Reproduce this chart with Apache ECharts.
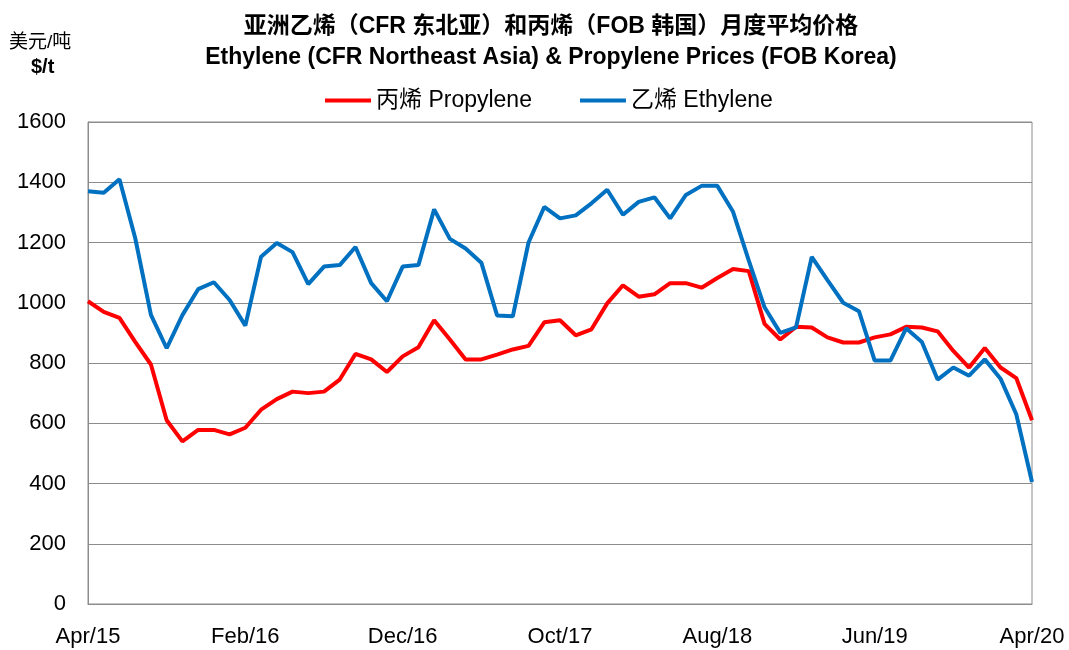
<!DOCTYPE html>
<html>
<head>
<meta charset="utf-8">
<script src="https://cdn.jsdelivr.net/npm/echarts@6/dist/echarts.min.js"></script>
<style>
  html, body { margin: 0; padding: 0; background: #fff; }
  #chart { width: 1069px; height: 650px; }
</style>
</head>
<body>
<div id="chart"></div>
<script>
// monthly, Apr/15 .. Apr/20
const monthNames = ["Jan", "Feb", "Mar", "Apr", "May", "Jun", "Jul", "Aug", "Sep", "Oct", "Nov", "Dec"];
const categories = [];
for (let k = 0; k < 61; k++) {
  const m = (3 + k) % 12;
  const y = 15 + Math.floor((3 + k) / 12);
  categories.push(monthNames[m] + "/" + y);
}

const propylene = [
  1005, 970, 950, 870, 795, 610, 540, 578, 578, 563,
  585, 645, 680, 705, 700, 705, 745, 830, 812, 770,
  822, 852, 942, 878, 812, 812, 828, 845, 857, 935,
  942, 892, 912, 998, 1058, 1020, 1028, 1065, 1065, 1050,
  1082, 1112, 1105, 930, 878, 920, 918, 885, 868, 868,
  885, 895, 920, 918, 905, 840, 785, 850, 785, 750,
  610
];
const ethylene = [
  1370, 1365, 1410, 1215, 960, 849, 959, 1045, 1068, 1009,
  924, 1153, 1198, 1168, 1062, 1120, 1125, 1185, 1065, 1005,
  1120, 1125, 1310, 1212, 1180, 1133, 958, 955, 1200, 1318,
  1280, 1290, 1330, 1375, 1292, 1335, 1350, 1280, 1358, 1388,
  1388, 1302, 1140, 985, 900, 918, 1152, 1075, 1000, 972,
  808, 808, 915, 870, 745, 785, 758, 812, 748, 630,
  405
];
const yTicks = [0, 200, 400, 600, 800, 1000, 1200, 1400, 1600];

const font = '"Liberation Sans", Arial, "Noto Sans CJK SC", sans-serif';

let chart = echarts.init(document.getElementById("chart"));
chart.setOption({
  animation: false,
  textStyle: { fontFamily: font },
  title: {
    text: "亚洲乙烯（CFR 东北亚）和丙烯（FOB 韩国）月度平均价格\nEthylene (CFR Northeast Asia) & Propylene Prices (FOB Korea)",
    left: 546,
    textAlign: "center",
    top: 6,
    textStyle: { fontFamily: font, fontSize: 23, fontWeight: "bold", color: "#000", lineHeight: 31 }
  },
  legend: {
    top: 84,
    left: 320,
    itemWidth: 46,
    itemHeight: 4,
    itemGap: 48,
    icon: "rect",
    textStyle: { fontFamily: font, fontSize: 23, color: "#000", padding: [0, 0, 0, 0] },
    data: ["丙烯 Propylene", "乙烯 Ethylene"]
  },
  graphic: [
    { type: "text", left: 9, top: 33, style: { text: "美元/吨", font: "19px " + font, fill: "#000" } },
    { type: "text", left: 31, top: 57, style: { text: "$/t", font: "bold 20px " + font, fill: "#000" } }
  ],
  grid: {
    left: 88, right: 37, top: 122, bottom: 46,
    show: true, borderColor: "#8c8c8c", borderWidth: 1
  },
  xAxis: {
    type: "category",
    data: categories,
    boundaryGap: false,
    axisLine: { lineStyle: { color: "#8c8c8c", width: 1 } },
    axisTick: { show: false },
    axisLabel: { interval: 9, fontSize: 22, color: "#000", margin: 22, fontFamily: font, showMaxLabel: true }
  },
  yAxis: {
    type: "value",
    min: yTicks[0],
    max: yTicks[yTicks.length - 1],
    interval: 200,
    axisLine: { show: true, lineStyle: { color: "#8c8c8c", width: 1 } },
    axisTick: { show: false },
    axisLabel: { fontSize: 22, color: "#000", margin: 22, fontFamily: font, formatter: v => String(v) },
    splitLine: { lineStyle: { color: "#8c8c8c", width: 1 } }
  },
  series: [
    {
      name: "丙烯 Propylene",
      type: "line",
      data: propylene,
      symbol: "none",
      lineStyle: { color: "#ff0000", width: 4 },
      itemStyle: { color: "#ff0000" }
    },
    {
      name: "乙烯 Ethylene",
      type: "line",
      data: ethylene,
      symbol: "none",
      lineStyle: { color: "#0070c0", width: 4 },
      itemStyle: { color: "#0070c0" }
    }
  ]
});
</script>
</body>
</html>
